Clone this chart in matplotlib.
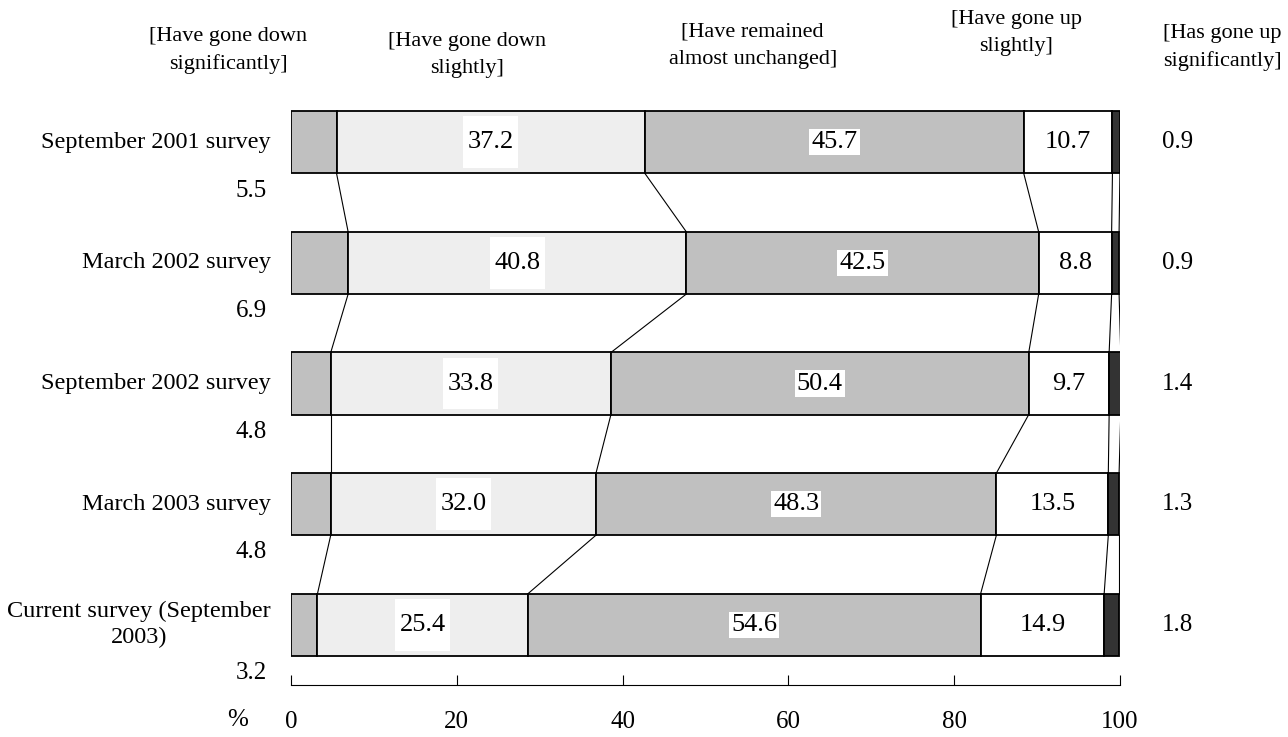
import matplotlib
matplotlib.use("Agg")
import matplotlib.pyplot as plt
import matplotlib.transforms as mtransforms
from matplotlib.patches import Rectangle

plt.rcParams['font.family'] = ['Liberation Serif', 'DejaVu Serif']

# Survey rounds (top to bottom) and response categories
surveys = ["September 2001 survey", "March 2002 survey", "September 2002 survey",
           "March 2003 survey", "Current survey (September\n2003)"]
categories = ["[Have gone down\nsignificantly]", "[Have gone down\nslightly]",
              "[Have remained\nalmost unchanged]", "[Have gone up\nslightly]",
              "[Has gone up\nsignificantly]"]

# Shares of respondents (%)
down_sig = [5.5, 6.9, 4.8, 4.8, 3.2]
down_slight = [37.2, 40.8, 33.8, 32.0, 25.4]
unchanged = [45.7, 42.5, 50.4, 48.3, 54.6]
up_slight = [10.7, 8.8, 9.7, 13.5, 14.9]
up_sig = [0.9, 0.9, 1.4, 1.3, 1.8]

x_ticks = [0, 20, 40, 60, 80, 100]

series = [down_sig, down_slight, unchanged, up_slight, up_sig]
colors = ['#c0c0c0', '#eeeeee', '#c0c0c0', '#ffffff', '#333333']

fig = plt.figure(figsize=(12.88, 7.37), dpi=100)
ax = fig.add_axes([0.2259, 0.0706, 0.6436, 0.818])

rows = list(range(len(surveys)))
bar_h = 0.515
lefts = [0.0] * len(rows)
bounds = []
for vals, col in zip(series, colors):
    ax.barh(rows, vals, left=lefts, height=bar_h, color=col,
            edgecolor='black', linewidth=1.3, zorder=2)
    lefts = [l + v for l, v in zip(lefts, vals)]
    bounds.append(lefts)

# Series lines joining category boundaries between consecutive bars
for b in bounds:
    for i in range(len(rows) - 1):
        ax.plot([b[i], b[i + 1]], [i + bar_h / 2, i + 1 - bar_h / 2],
                color='black', linewidth=0.8, zorder=1)

starts = [[0.0] * len(rows)] + bounds[:-1]

for i in rows:
    # "slightly down" labels on a white patch
    c = starts[1][i] + down_slight[i] / 2
    ax.add_patch(Rectangle((c - 3.3, i - 0.215), 6.6, 0.43,
                           facecolor='white', edgecolor='none', zorder=3))
    ax.text(c, i, f"{down_slight[i]:.1f}", ha='center', va='center',
            fontsize=19, zorder=4)
    # "unchanged" labels
    c = starts[2][i] + unchanged[i] / 2
    ax.text(c, i, f"{unchanged[i]:.1f}", ha='center', va='center', fontsize=19,
            zorder=4, bbox=dict(boxstyle='square,pad=0.08', facecolor='white',
                                edgecolor='none'))
    # "slightly up" labels
    c = starts[3][i] + up_slight[i] / 2
    ax.text(c, i, f"{up_slight[i]:.1f}", ha='center', va='center',
            fontsize=19, zorder=4)
    # small segments labelled outside the bars
    ax.text(-2.9, i + 0.40, f"{down_sig[i]:.1f}", ha='right', va='center',
            fontsize=18)
    ax.text(107.0, i, f"{up_sig[i]:.1f}", ha='center', va='center',
            fontsize=18)
    # survey names
    ax.text(-2.4, i, surveys[i], ha='right', va='center', fontsize=17.5,
            multialignment='center', linespacing=1.3)

ax.set_xlim(0, 100)
ax.set_ylim(4.5, -0.5)
ax.set_xticks(x_ticks)
ax.set_xticklabels([str(t) for t in x_ticks])
ax.set_yticks([])
ax.tick_params(axis='x', direction='in', length=7, width=0.8, pad=19,
               labelsize=18)
for side in ('left', 'right', 'top'):
    ax.spines[side].set_visible(False)
ax.spines['bottom'].set_linewidth(0.8)

trans = mtransforms.blended_transform_factory(ax.transData, fig.transFigure)
ax.text(-6.4, 0.023, "%", transform=trans, ha='center', va='center',
        fontsize=18)

# Category headers across the top
header_x = [-7.6, 21.2, 55.7, 87.5, 112.4]
header_y = [0.932, 0.925, 0.938, 0.955, 0.935]
for name, hx, hy in zip(categories, header_x, header_y):
    ax.text(hx, hy, name, transform=trans, ha='center', va='center',
            fontsize=16, linespacing=1.55)

fig.savefig("out.png", dpi=100)
